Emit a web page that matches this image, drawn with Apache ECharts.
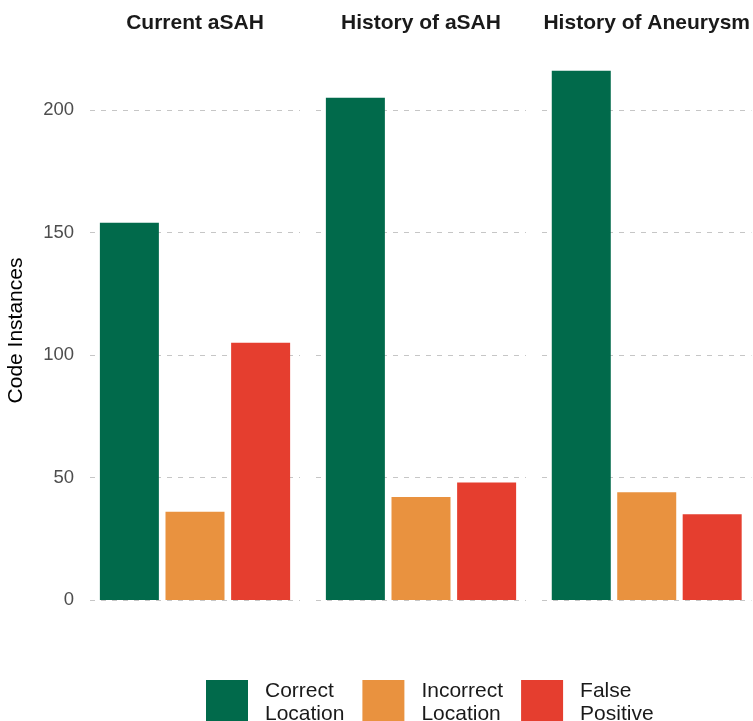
<!DOCTYPE html>
<html>
<head>
<meta charset="utf-8">
<script src="https://cdn.jsdelivr.net/npm/echarts@6/dist/echarts.min.js"></script>
<style>
html,body{margin:0;padding:0;background:#fff;}
#chart{width:753px;height:721px;}
</style>
</head>
<body>
<div id="chart"></div>
<script>
const panels = ['Current aSAH', 'History of aSAH', 'History of Aneurysm'];
const categories = ['Correct Location', 'Incorrect Location', 'False Positive'];
const correctLocation = [154, 205, 216];
const incorrectLocation = [36, 42, 44];
const falsePositive = [105, 48, 35];
const yTicks = [0, 50, 100, 150, 200];
const colors = ['#016A4B', '#E9923F', '#E53E2F'];

const seriesValues = [correctLocation, incorrectLocation, falsePositive];
const FONT = "'Liberation Sans', Arial, Helvetica, sans-serif";
const panelLeft = [90, 316, 542];
const panelWidth = 210;
const grids = [], xAxes = [], yAxes = [], series = [];

panels.forEach((p, g) => {
  grids.push({left: panelLeft[g], width: panelWidth, top: 61, bottom: 121, containLabel: false});
  xAxes.push({
    gridIndex: g, type: 'value', min: 0.4, max: categories.length + 0.6,
    position: 'top', name: p, nameLocation: 'middle', nameGap: 27,
    nameTextStyle: {fontFamily: FONT, fontSize: 21, fontWeight: 'bold', color: '#1a1a1a'},
    axisLine: {show: false}, axisTick: {show: false}, axisLabel: {show: false}, splitLine: {show: false}
  });
  yAxes.push({
    gridIndex: g, type: 'value', min: yTicks[0], max: 220, interval: yTicks[1] - yTicks[0],
    name: g === 0 ? 'Code Instances' : '', nameLocation: 'middle', nameRotate: 90, nameGap: 63,
    nameTextStyle: {fontFamily: FONT, fontSize: 21, color: '#000'},
    axisLine: {show: false}, axisTick: {show: false},
    axisLabel: {show: g === 0, showMaxLabel: false, fontFamily: FONT, fontSize: 18.5, color: '#4d4d4d', margin: 16},
    splitLine: {show: true, showMaxLine: false, lineStyle: {color: '#c6c6c6', width: 1, type: [5, 6]}}
  });
  categories.forEach((c, i) => {
    series.push({
      type: 'bar', name: c, xAxisIndex: g, yAxisIndex: g,
      barWidth: 59, barGap: '-100%',
      itemStyle: {color: colors[i]},
      data: [[i + 1, seriesValues[i][g]]],
      animation: false
    });
  });
});

const chart = echarts.init(document.getElementById('chart'), null, {renderer: 'canvas'});
chart.setOption({
  backgroundColor: '#fff',
  animation: false,
  grid: grids, xAxis: xAxes, yAxis: yAxes, series: series,
  legend: {
    data: categories, left: 201, top: 675, itemWidth: 42, itemHeight: 46, itemGap: 18,
    icon: 'rect',
    formatter: n => n.replace(' ', '\n'),
    textStyle: {fontFamily: FONT, fontSize: 21, color: '#1a1a1a', lineHeight: 23, padding: [0, 0, 0, 12]}
  }
});
</script>
</body>
</html>
